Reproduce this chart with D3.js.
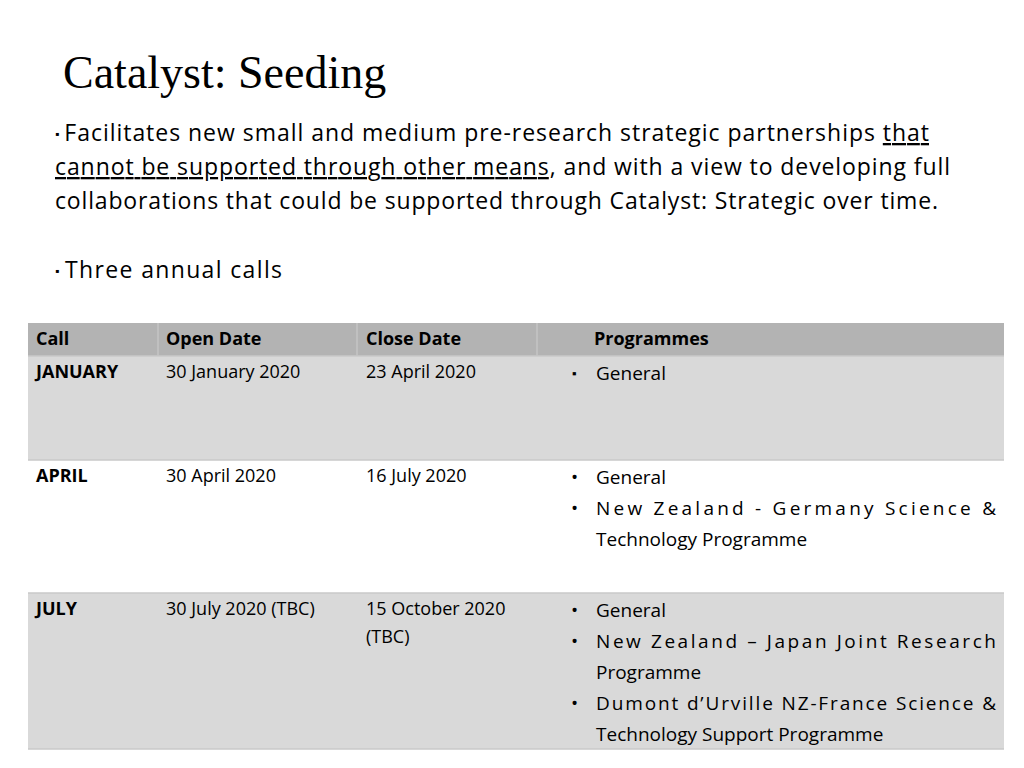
<!DOCTYPE html><html><head><meta charset="utf-8"><script src="https://cdn.jsdelivr.net/npm/d3@7"></script>
<style>body{margin:0;background:#fff}svg{display:block}text{font-family:"Open Sans",sans-serif;fill:#000}</style></head><body><svg width="1024" height="768"></svg>
<script>
const headers=["Call","Open Date","Close Date","Programmes"];
const calls=["JANUARY","APRIL","JULY"];
const openDates=[["30 January 2020"],["30 April 2020"],["30 July 2020 (TBC)"]];
const closeDates=[["23 April 2020"],["16 July 2020"],["15 October 2020","(TBC)"]];
const bulletSym=["▪","•","•"];
// each programme: array of visual lines; justified flag for all but last line
const programmes=[
 [["General"]],
 [["General"],["New Zealand - Germany Science &","Technology Programme"]],
 [["General"],["New Zealand – Japan Joint Research","Programme"],["Dumont d’Urville NZ-France Science &","Technology Support Programme"]]
];
const svg=d3.select("svg");
svg.append("text").attr("x",63).attr("y",88).style("font-family","'Liberation Serif',serif").style("font-size","46px").text("Catalyst: Seeding");
const intro=[
 {x:55,y:141,parts:[["▪ ",false,"12px"],["Facilitates new small and medium pre-research strategic partnerships ",false],["that",true]],len:874},
 {x:55,y:175,parts:[["cannot be supported through other means",true],[", and with a view to developing full",false]],len:895},
 {x:55,y:209,parts:[["collaborations that could be supported through Catalyst: Strategic over time.",false]],len:883},
 {x:55,y:278,parts:[["▪ ",false,"12px"],["Three annual calls",false]],len:227}
];
intro.forEach(l=>{const t=svg.append("text").attr("x",l.x).attr("y",l.y).style("font-size","23px").attr("textLength",l.len).attr("lengthAdjust","spacing");
 l.parts.forEach(p=>{const s=t.append("tspan").text(p[0]);if(p[1])s.attr("text-decoration","underline");if(p[2])s.style("font-size",p[2]).attr("dy",p[2]?-3:0);});
 t.selectAll("tspan").filter((d,i)=>i==1&&l.parts[0][2]).attr("dy",3);});
// table
const rowTops=[323,356,460,593,749];
const colX=d3.scaleOrdinal().domain([0,1,2,3,4]).range([28,158,357,537,1004]);
const fills=["#b3b3b3","#d9d9d9","#ffffff","#d9d9d9"];
const y=d3.scaleLinear().domain([0,1]).range([0,31]);
svg.selectAll("rect.row").data(fills).join("rect").attr("x",28).attr("width",976).attr("y",(d,i)=>rowTops[i]).attr("height",(d,i)=>rowTops[i+1]-rowTops[i]).attr("fill",d=>d);
svg.selectAll("line.rl").data(rowTops.slice(1)).join("line").attr("x1",28).attr("x2",1004).attr("y1",d=>d).attr("y2",d=>d).attr("stroke","#c8c8c8").attr("stroke-width",1.5);
[1,2,3].forEach(c=>svg.append("line").attr("x1",colX(c)).attr("x2",colX(c)).attr("y1",323).attr("y2",356).attr("stroke","#c4c4c4").attr("stroke-width",1.5));
const hx=[36,166,366,594];
headers.forEach((h,i)=>svg.append("text").attr("x",hx[i]).attr("y",345).style("font-size","18px").style("font-weight","bold").text(h));
calls.forEach((c,r)=>{const top=rowTops[r+1];
 svg.append("text").attr("x",36).attr("y",top+22).style("font-size","18px").style("font-weight","bold").text(c);
 openDates[r].forEach((s,k)=>svg.append("text").attr("x",166).attr("y",top+22+y(k)*0.9).style("font-size","18px").text(s));
 closeDates[r].forEach((s,k)=>svg.append("text").attr("x",366).attr("y",top+22+y(k)*0.9).style("font-size","18px").text(s));
 let li=0;
 programmes[r].forEach(p=>{svg.append("text").attr("x",r==0?572:571).attr("y",top+24+y(li)).style("font-size",r==0?"13px":"19px").attr("dy",r==0?-2:0).text(bulletSym[r]);
  p.forEach((s,k)=>{const t=svg.append("text").attr("x",596).attr("y",top+24+y(li)).style("font-size","19px").text(s);
   if(k<p.length-1)t.attr("textLength",400).attr("lengthAdjust","spacing");li++;});});
});
</script></body></html>
